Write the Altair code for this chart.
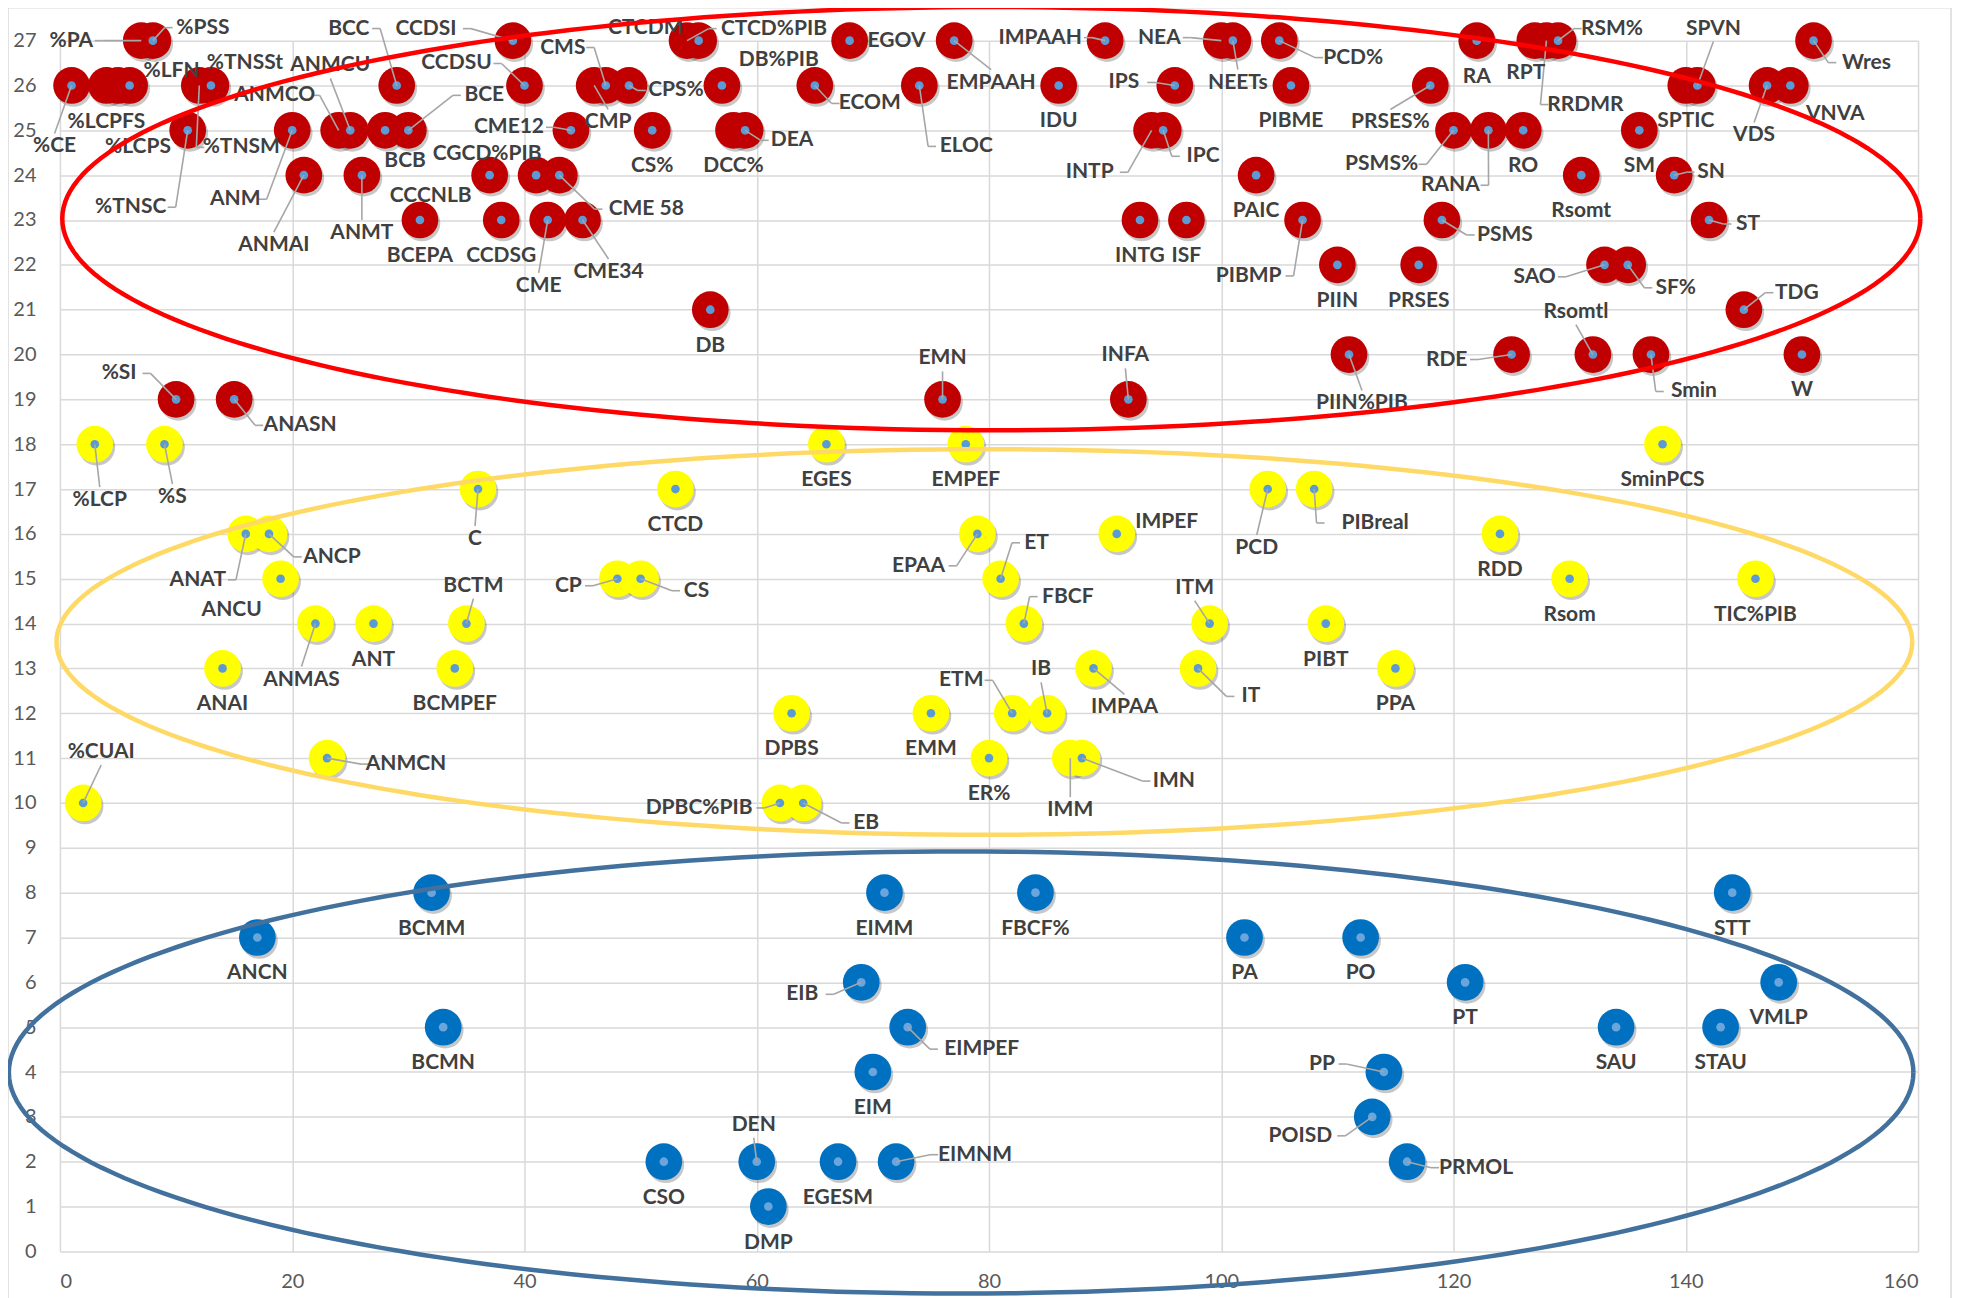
import math
import altair as alt
import pandas as pd

# ---------------- data ----------------
labels = ["%CE","%CUAI","%LCP","%LCPFS","%LCPS","%LFN","%PA","%PSS","%S","%SI","%TNSC","%TNSM","%TNSSt",
          "ANAI","ANASN","ANAT","ANCN","ANCP","ANCU","ANM","ANMAI","ANMAS","ANMCN","ANMCO","ANMCU","ANMT","ANT",
          "BCB","BCC","BCE","BCEPA","BCMM","BCMN","BCMPEF","BCTM","C","CCCNLB","CCDSG","CCDSI","CCDSU","CGCD%PIB",
          "CME","CME 58","CME12","CME34","CMP","CMS","CP","CPS%","CS","CS%","CSO","CTCD","CTCD%PIB","CTCDM",
          "DB","DB%PIB","DCC%","DEA","DEN","DMP","DPBC%PIB","DPBS","EB","ECOM","EGES","EGESM","EGOV","EIB","EIM",
          "EIMM","EIMNM","EIMPEF","ELOC","EMM","EMN","EMPAAH","EMPEF","EPAA","ER%","ET","ETM","FBCF","FBCF%","IB",
          "IDU","IMM","IMN","IMPAA","IMPAAH","IMPEF","INFA","INTG","INTP","IPC","IPS","ISF","IT","ITM","NEA","NEETs",
          "PA","PAIC","PCD","PCD%","PIBME","PIBMP","PIBreal","PIBT","PIIN","PIIN%PIB","PO","POISD","PP","PPA","PRMOL",
          "PRSES","PRSES%","PSMS","PSMS%","PT","RA","RANA","RDD","RDE","RO","RPT","RRDMR","RSM%","Rsom","Rsomt",
          "Rsomtl","SAO","SAU","SF%","SM","Smin","SminPCS","SN","SPTIC","SPVN","ST","STAU","STT","TDG","TIC%PIB",
          "VDS","VMLP","VNVA","W","Wres"]

x_vals = [1, 2, 3, 4, 5, 6, 7, 8, 9, 10, 11, 12, 13, 14, 15, 16, 17, 18, 19, 20,
          21, 22, 23, 24, 25, 26, 27, 28, 29, 30, 31, 32, 33, 34, 35, 36, 37, 38, 39, 40,
          41, 42, 43, 44, 45, 46, 47, 48, 49, 50, 51, 52, 53, 54, 55, 56, 57, 58, 59, 60,
          61, 62, 63, 64, 65, 66, 67, 68, 69, 70, 71, 72, 73, 74, 75, 76, 77, 78, 79, 80,
          81, 82, 83, 84, 85, 86, 87, 88, 89, 90, 91, 92, 93, 94, 95, 96, 97, 98, 99, 100,
          101, 102, 103, 104, 105, 106, 107, 108, 109, 110, 111, 112, 113, 114, 115, 116, 117, 118, 119, 120,
          121, 122, 123, 124, 125, 126, 127, 128, 129, 130, 131, 132, 133, 134, 135, 136, 137, 138, 139, 140,
          141, 142, 143, 144, 145, 146, 147, 148, 149, 150, 151]

y_vals = [26, 10, 18, 26, 26, 26, 27, 27, 18, 19, 25, 26, 26,
          13, 19, 16, 7, 16, 15, 25, 24, 14, 11, 25, 25, 24, 14,
          25, 26, 25, 23, 8, 5, 13, 14,
          17, 24, 23, 27, 26, 24,
          23, 24, 25, 23, 26, 26, 15, 26, 15, 25,
          2, 17, 27, 27, 21, 26, 25, 25, 2, 1,
          10, 12, 10, 26, 18, 2, 27, 6, 4, 8,
          2, 5, 26, 12, 19, 27, 18, 16, 11, 15,
          12, 14, 8, 12, 26, 11, 11, 13, 27, 16,
          19, 23, 25, 25, 26, 23, 13, 14, 27, 27,
          7, 24, 17, 27, 26, 23, 17, 14, 22, 20,
          7, 3, 4, 13, 2, 22, 26, 23, 25, 6,
          27, 25, 16, 20, 25, 27, 27, 27, 15, 24,
          20, 22, 5, 22, 25, 20, 18, 24, 26, 26,
          23, 5, 8, 21, 15, 26, 6, 26, 20, 27]

# ellipses: centre x, centre y, radius x, radius y (data units) and colour
ellipse_names = ["red", "yellow", "blue"]
ellipse_cx = [80.2, 79.6, 77.6]
ellipse_cy = [23.03, 13.59, 3.99]
ellipse_rx = [80.0, 79.9, 82.0]
ellipse_ry = [4.72, 4.30, 4.93]
ellipse_colors = ["#FF0000", "#FFD966", "#41719C"]

# label placement (pixel offset from point, leader line flag); default = below
label_place = {
    "%PA": (-70, 0, True), "%PSS": (50, -13, True), "%CE": (-17, 61, True), "%LCPFS": (0, 37, False),
    "%LCPS": (20, 62, False), "%LFN": (42, -14, False), "%TNSSt": (34, -22, False), "%TNSM": (42, 62, True),
    "%TNSC": (-57, 77, True), "ANM": (-57, 69, True), "ANMAI": (-30, 70, True), "ANMCO": (-64, -35, True),
    "ANMCU": (-20, -65, True), "ANMT": (0, 58, True), "BCB": (20, 31, False), "BCC": (-48, -57, True),
    "BCE": (76, -35, True), "CCCNLB": (-59, 21, False), "CCDSI": (-87, -12, True), "CCDSU": (-68, -22, True),
    "CGCD%PIB": (-49, -21, False), "CME12": (-62, -3, True), "%SI": (-57, -26, True), "ANASN": (66, 26, True),
    "CMS": (-43, -38, True), "CMP": (14, 37, True), "CPS%": (47, 5, True), "CTCDM": (-53, -13, False),
    "CTCD%PIB": (87, -12, True), "DB%PIB": (57, -25, False), "ECOM": (55, 18, True), "EGOV": (47, 0, False),
    "EMPAAH": (37, 42, True), "ELOC": (47, 61, True), "DEA": (47, 10, True), "CME 58": (87, 34, True),
    "CME": (-9, 66, True), "CME34": (26, 52, True), "EMN": (0, -41, True), "IMPAAH": (-65, -3, True),
    "NEA": (-62, -3, True), "NEETs": (5, 42, True), "PCD%": (74, 17, True), "IPS": (-51, -3, True),
    "PRSES%": (-40, 37, True), "INTP": (-62, 42, True), "IPC": (40, 26, True), "PIBMP": (-54, 56, True),
    "PSMS%": (-72, 34, True), "RANA": (-38, 55, True), "INFA": (-3, -44, True), "PIIN%PIB": (13, 49, True),
    "RDE": (-65, 5, True), "RPT": (-9, 32, False), "RRDMR": (39, 64, True), "RSM%": (54, -12, True),
    "SPVN": (16, -57, True), "Wres": (53, 22, True), "VDS": (-13, 50, True), "VNVA": (45, 29, False),
    "SN": (37, -3, True), "ST": (39, 4, True), "PSMS": (63, 15, True), "SAO": (-70, 12, True),
    "SF%": (48, 23, True), "TDG": (53, -17, True), "Rsomtl": (-17, -43, True), "Smin": (43, 37, True),
    "%LCP": (5, 56, True), "%S": (8, 53, True), "ANAT": (-48, 46, True), "ANCP": (63, 23, True),
    "ANCU": (-49, 31, False), "C": (-3, 50, True), "BCTM": (7, -38, True), "ANMAS": (-14, 56, True),
    "%CUAI": (18, -51, True), "ANMCN": (79, 6, True), "CP": (-49, 7, True), "CS": (56, 12, True),
    "EPAA": (-59, 32, True), "ET": (36, -36, True), "IMPEF": (50, -12, False), "PCD": (-11, 59, True),
    "FBCF": (44, -27, True), "ITM": (-15, -36, True), "IB": (-6, -44, True), "ETM": (-51, -33, True),
    "IMPAA": (31, 39, True), "IT": (53, 28, True), "IMM": (0, 52, True), "IMN": (92, 23, True),
    "DPBC%PIB": (-81, 5, True), "EB": (63, 20, True), "PIBreal": (61, 34, True), "EIB": (-59, 12, True),
    "EIMPEF": (74, 22, True), "DEN": (-3, -37, True), "EIMNM": (79, -7, True), "PP": (-62, -8, True),
    "POISD": (-72, 19, True), "PRMOL": (69, 6, True),
}

# ---------------- layout ----------------
W, H = 1860, 1212
XMAX, YMAX = 160, 27
PX_X = W / XMAX
PX_Y = H / YMAX
FONT = "Lato"
LABEL_SIZE = 21

def fill_for(y):
    if y >= 19:
        return "#C00000"
    if y >= 10:
        return "#FFFF00"
    return "#0070C0"

def dot_for(y):
    return "#6AA5DC" if y < 10 else "#5B9BD5"

marker_rows, label_rows, leader_rows = [], [], []
for i, (lab, x, y) in enumerate(zip(labels, x_vals, y_vals)):
    marker_rows.append({"x": x, "y": y, "seq": 2 * i, "sz": 1350, "col": fill_for(y)})
    marker_rows.append({"x": x, "y": y, "seq": 2 * i + 1, "sz": 75, "col": dot_for(y)})
    dx, dy, leader = label_place.get(lab, (0, 36, False))
    label_rows.append({"lx": x + dx / PX_X, "ly": y - dy / PX_Y, "text": lab})
    if leader:
        hw = 6.8 * len(lab)
        hh = 11
        if abs(dx) > hw + 4:
            s = 1 if dx > 0 else -1
            p0 = (dx - s * (hw + 3), dy)
            p1 = (p0[0] - s * 8, dy)
            segs = [(p0, p1), (p1, (0, 0))]
        else:
            s = 1 if dy > 0 else -1
            p0 = (dx, dy - s * (hh + 2))
            segs = [(p0, (0, 0))]
        for a, b in segs:
            leader_rows.append({"x1": x + a[0] / PX_X, "y1": y - a[1] / PX_Y,
                                "x2": x + b[0] / PX_X, "y2": y - b[1] / PX_Y})

ell_rows = []
for name, cx, cy, rx, ry in zip(ellipse_names, ellipse_cx, ellipse_cy, ellipse_rx, ellipse_ry):
    n = 240
    for k in range(n + 1):
        t = 2 * math.pi * k / n
        ell_rows.append({"eid": name, "k": k, "ex": cx + rx * math.cos(t), "ey": cy + ry * math.sin(t)})

points = pd.DataFrame({"x": x_vals, "y": y_vals, "label": labels})
markers = pd.DataFrame(marker_rows)
labels_df = pd.DataFrame(label_rows)
leaders = pd.DataFrame(leader_rows)
ellipses = pd.DataFrame(ell_rows)

xscale = alt.Scale(domain=[0, XMAX], nice=False, zero=False)
yscale = alt.Scale(domain=[0, YMAX], nice=False, zero=False)
xaxis = alt.Axis(values=list(range(0, 161, 20)), grid=True, domain=False, ticks=False,
                 labelPadding=20, title=None)
yaxis = alt.Axis(values=list(range(0, 28)), grid=True, domain=False, ticks=False,
                 labelPadding=24, title=None)

def X(field):
    return alt.X(field, type="quantitative", scale=xscale, axis=xaxis)

def Y(field):
    return alt.Y(field, type="quantitative", scale=yscale, axis=yaxis)

frame = alt.Chart(pd.DataFrame({"a": [0]})).mark_rect(
    filled=False, stroke="#D9D9D9", strokeWidth=1.5
).encode(x=alt.value(-52), x2=alt.value(1893), y=alt.value(-33), y2=alt.value(1300))

shadow = alt.Chart(points).mark_circle(
    color="#000000", opacity=0.22, size=1350, xOffset=2, yOffset=3
).encode(x=X("x"), y=Y("y"))

marks = alt.Chart(markers).mark_circle(opacity=1).encode(
    x=X("x"), y=Y("y"),
    size=alt.Size("sz:Q", scale=None),
    color=alt.Color("col:N", scale=None),
    order=alt.Order("seq:Q"),
)

leader_layer = alt.Chart(leaders).mark_rule(color="#A6A6A6", strokeWidth=1.6).encode(
    x=X("x1"), y=Y("y1"), x2="x2:Q", y2="y2:Q"
)

text_layer = alt.Chart(labels_df).mark_text(
    font=FONT, fontSize=LABEL_SIZE, fontWeight="bold", color="#404040",
    align="center", baseline="middle"
).encode(x=X("lx"), y=Y("ly"), text="text:N")

ell_layer = alt.Chart(ellipses).mark_line(strokeWidth=4.5).encode(
    x=X("ex"), y=Y("ey"),
    color=alt.Color("eid:N", scale=alt.Scale(domain=ellipse_names, range=ellipse_colors), legend=None),
    detail="eid:N",
    order=alt.Order("k:Q"),
)

chart = alt.layer(frame, shadow, marks, leader_layer, text_layer, ell_layer).properties(
    width=W, height=H,
    autosize=alt.AutoSizeParams(type="none"),
    padding={"left": 52, "top": 32, "right": 40, "bottom": 46},
    background="white",
).configure_view(stroke=None).configure_axis(
    labelFont=FONT, labelFontSize=20, labelColor="#595959",
    gridColor="#D9D9D9", gridWidth=1.5,
)

chart.save("out.html", embed_options={"renderer": "svg", "actions": False})
